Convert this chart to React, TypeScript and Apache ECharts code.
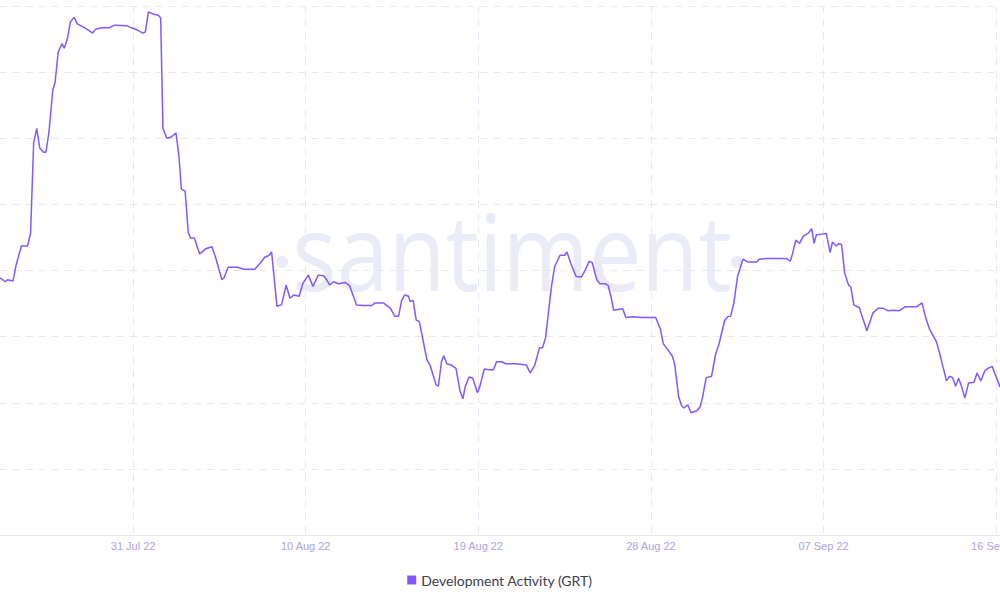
import React, { useEffect, useRef } from "react";
import * as echarts from "echarts";

// hours since 24 Jul 2022 10:00 UTC
const START_UTC = Date.UTC(2022, 6, 24, 10, 0);
const hours = [
  0, 7, 10, 17, 21, 28, 36, 40, 44, 48, 52, 57, 60, 64, 69, 72, 76, 81, 84, 88,
  92, 97, 101, 109, 115, 121, 125, 133, 142, 150, 166, 172, 179, 187, 190, 194, 200, 207, 210, 213,
  218, 224, 230, 234, 237, 242, 246, 249, 254, 261, 269, 277, 282, 290, 293, 298, 305, 311, 318, 333,
  340, 346, 352, 355, 362, 368, 374, 379, 384, 391, 396, 403, 409, 416, 423, 427, 431, 436, 442, 451,
  457, 466, 475, 486, 490, 501, 510, 516, 521, 525, 529, 534, 536, 540, 544, 548, 558, 562, 570, 573,
  577, 580, 584, 590, 596, 601, 605, 608, 613, 618, 624, 627, 633, 640, 645, 649, 656, 661, 675, 688,
  693, 699, 705, 709, 713, 718, 721, 725, 732, 738, 741, 746, 753, 760, 765, 770, 774, 780, 784, 791,
  795, 799, 802, 808, 814, 818, 828, 839, 857, 863, 867, 873, 879, 882, 887, 891, 894, 899, 903, 911,
  915, 918, 923, 930, 935, 940, 947, 951, 955, 959, 964, 971, 977, 989, 992, 1002, 1028, 1033, 1036, 1040,
  1045, 1050, 1056, 1061, 1064, 1067, 1074, 1080, 1085, 1088, 1093, 1097, 1100, 1104, 1109, 1112, 1116, 1123, 1133, 1141,
  1148, 1154, 1161, 1168, 1175, 1183, 1198, 1205, 1210, 1215, 1224, 1228, 1233, 1237, 1241, 1245, 1249, 1253, 1257, 1261,
  1266, 1273, 1277, 1282, 1287, 1291, 1297, 1300, 1307,
];
const activity = [
  38.9, 38.3, 38.6, 38.4, 40.8, 43.7, 43.7, 45.7, 59.3, 61.5, 58.5, 57.9, 57.9, 60.9, 67.3, 68.4, 73.0, 74.3, 73.6, 75.0,
  77.6, 78.3, 77.3, 76.8, 76.4, 75.9, 76.5, 76.7, 76.7, 77.1, 77.0, 76.7, 76.4, 75.9, 76.1, 79.1, 78.8, 78.6, 78.2, 61.5,
  60.0, 60.2, 60.8, 57.2, 52.3, 52.0, 45.8, 44.9, 44.9, 42.5, 43.3, 43.6, 41.9, 38.6, 38.9, 40.5, 40.5, 40.5, 40.2, 40.2,
  41.1, 42.0, 42.3, 42.8, 34.6, 34.8, 37.8, 35.8, 36.3, 36.1, 38.1, 39.3, 37.6, 39.3, 39.2, 38.6, 37.8, 38.3, 38.0, 38.2,
  37.7, 34.8, 34.7, 34.7, 35.1, 35.1, 34.3, 33.1, 33.1, 35.5, 36.3, 36.1, 35.3, 35.5, 32.5, 32.3, 26.5, 25.7, 22.7, 22.5,
  26.2, 27.1, 25.9, 25.7, 25.2, 21.9, 20.6, 22.4, 23.9, 23.7, 21.5, 22.4, 25.1, 25.0, 25.0, 26.2, 26.2, 25.9, 25.9, 25.7,
  24.5, 25.7, 28.3, 28.3, 29.8, 34.8, 37.8, 40.6, 42.3, 42.3, 42.8, 41.1, 39.1, 39.0, 40.1, 41.4, 41.2, 38.6, 38.0, 38.0,
  37.7, 35.8, 34.0, 34.1, 34.2, 32.9, 33.0, 32.9, 32.9, 31.2, 28.9, 28.0, 27.0, 25.7, 20.9, 19.5, 19.2, 19.7, 18.5, 18.8,
  19.4, 20.7, 23.8, 24.0, 27.2, 29.0, 32.4, 33.0, 33.1, 35.0, 39.1, 41.7, 41.3, 41.3, 41.7, 41.8, 41.8, 41.4, 42.6, 44.6,
  44.1, 45.2, 45.6, 46.3, 44.1, 45.4, 45.5, 45.6, 42.7, 44.3, 43.7, 44.1, 43.9, 39.6, 37.8, 37.5, 34.8, 34.4, 30.9, 33.6,
  34.3, 34.3, 33.9, 34.0, 33.9, 34.5, 34.5, 35.1, 32.8, 31.1, 29.2, 27.5, 25.2, 23.3, 24.0, 23.8, 22.5, 23.7, 22.4, 20.7,
  23.0, 23.1, 24.5, 23.3, 24.8, 25.2, 25.5, 24.5, 22.4,
];
const seriesName = "Development Activity (GRT)";
const watermarkText = "santiment";
const monthNames = ["Jan", "Feb", "Mar", "Apr", "May", "Jun", "Jul", "Aug", "Sep", "Oct", "Nov", "Dec"];

function formatHour(v: number): string {
  const d = new Date(START_UTC + v * 3600000);
  const dd = String(d.getUTCDate()).padStart(2, "0");
  const yy = String(d.getUTCFullYear()).slice(2);
  return `${dd} ${monthNames[d.getUTCMonth()]} ${yy}`;
}

export default function App() {
  const ref = useRef<HTMLDivElement>(null);
  useEffect(() => {
    document.body.style.margin = "0";
    const chart = echarts.init(ref.current!, null, { renderer: "svg" });
    const gridColor = "#e6e7f5";
    const wmColor = "#e9ebf6";
    chart.setOption({
      animation: false,
      backgroundColor: "#ffffff",
      grid: {
        left: -39.5,
        right: 0,
        top: 6,
        bottom: 65,
        containLabel: false,
        outerBoundsMode: "none",
      },
      graphic: [
        {
          type: "text",
          z: 0,
          x: 512,
          y: 250,
          scaleX: 0.88,
          silent: true,
          style: {
            text: watermarkText,
            fontFamily: "Open Sans",
            fontSize: 106,
            fill: wmColor,
            align: "center",
            verticalAlign: "middle",
          },
        },
        { type: "circle", z: 0, silent: true, shape: { cx: 282, cy: 262, r: 6 }, style: { fill: wmColor } },
        { type: "circle", z: 0, silent: true, shape: { cx: 737, cy: 262, r: 6 }, style: { fill: wmColor } },
      ],
      legend: {
        data: [seriesName],
        left: "center",
        top: 568,
        icon: "rect",
        itemWidth: 9,
        itemHeight: 9,
        itemGap: 6,
        textStyle: { fontFamily: "Lato", fontSize: 14, color: "#3d3d52" },
      },
      xAxis: {
        type: "value",
        min: -51.6,
        max: 1307,
        interval: 225.6,
        axisLine: { show: true, lineStyle: { color: "#e4e4f4", width: 1 } },
        axisTick: { show: false },
        axisLabel: {
          showMinLabel: false,
          showMaxLabel: false,
          formatter: formatHour,
          color: "#aaa3e8",
          fontSize: 11,
          fontFamily: "Liberation Sans",
          margin: 5,
        },
        splitLine: {
          show: true,
          showMinLine: false,
          showMaxLine: false,
          lineStyle: { color: gridColor, type: [7, 6], width: 1 },
        },
      },
      yAxis: {
        type: "value",
        min: 0,
        max: 80,
        interval: 10,
        axisLine: { show: false },
        axisTick: { show: false },
        axisLabel: { show: false },
        splitLine: { show: true, lineStyle: { color: gridColor, type: [7, 6], width: 1 } },
      },
      series: [
        {
          name: seriesName,
          type: "line",
          z: 3,
          data: hours.map((h, i) => [h, activity[i]]),
          showSymbol: false,
          symbol: "none",
          lineStyle: { color: "#8358ff", width: 1.5 },
          itemStyle: { color: "#8358ff" },
        },
      ],
    });
    return () => chart.dispose();
  }, []);
  return <div ref={ref} style={{ width: 1000, height: 600 }} />;
}
